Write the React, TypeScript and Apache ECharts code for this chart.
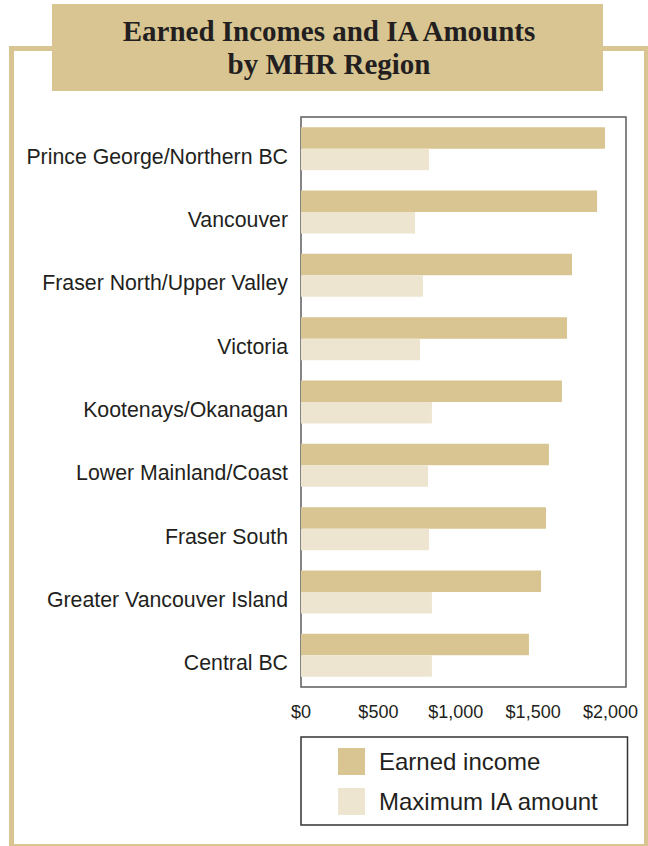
import React, { useEffect, useRef } from 'react';
import * as echarts from 'echarts';

const regions = [
  'Prince George/Northern BC',
  'Vancouver',
  'Fraser North/Upper Valley',
  'Victoria',
  'Kootenays/Okanagan',
  'Lower Mainland/Coast',
  'Fraser South',
  'Greater Vancouver Island',
  'Central BC',
];
const earnedIncome = [1964, 1913, 1751, 1719, 1686, 1602, 1583, 1551, 1473];
const maxIAAmount = [827, 737, 788, 769, 846, 821, 827, 846, 846];
const xTickValues = [0, 500, 1000, 1500, 2000];
const seriesNames = ['Earned income', 'Maximum IA amount'];
const titleLines = ['Earned Incomes and IA Amounts', 'by MHR Region'];

const TAN = '#d8c592';
const LIGHT = '#ede5cf';
const INK = '#231f20';
const SANS = '"Liberation Sans", Arial, Helvetica, sans-serif';
const SERIF = '"Liberation Serif", "Times New Roman", serif';

export default function App() {
  const ref = useRef<HTMLDivElement>(null);
  useEffect(() => {
    document.body.style.margin = '0';
    const chart = echarts.init(ref.current!, null, { renderer: 'svg' });
    chart.setOption({
      animation: false,
      backgroundColor: '#ffffff',
      grid: {
        left: 301,
        top: 117,
        width: 325,
        height: 570,
        show: true,
        borderColor: '#5c5c5c',
        borderWidth: 1.5,
        backgroundColor: 'transparent',
      },
      xAxis: {
        type: 'value',
        min: 0,
        max: 2100,
        interval: 500,
        axisLine: { show: false },
        axisTick: { show: false },
        splitLine: { show: false },
        axisLabel: {
          showMaxLabel: false,
          margin: 16,
          fontSize: 18,
          color: INK,
          fontFamily: SANS,
          formatter: (v: number) =>
            xTickValues.includes(v) ? '$' + v.toLocaleString('en-US') : '',
        },
      },
      yAxis: {
        type: 'category',
        data: regions,
        inverse: true,
        axisLine: { show: false },
        axisTick: { show: false },
        splitLine: { show: false },
        axisLabel: {
          fontSize: 21.3,
          color: INK,
          fontFamily: SANS,
          margin: 13,
          verticalAlign: 'top',
          lineHeight: 16,
        },
      },
      legend: {
        data: seriesNames,
        orient: 'vertical',
        left: 338,
        top: 748,
        padding: 0,
        itemWidth: 27,
        itemHeight: 27,
        itemGap: 13,
        icon: 'rect',
        selectedMode: false,
        textStyle: {
          fontSize: 24,
          color: INK,
          fontFamily: SANS,
          padding: [0, 0, 0, 9],
        },
      },
      series: [
        {
          name: seriesNames[0],
          type: 'bar',
          data: earnedIncome,
          barWidth: 21.5,
          barGap: '0%',
          itemStyle: { color: TAN },
          silent: true,
        },
        {
          name: seriesNames[1],
          type: 'bar',
          data: maxIAAmount,
          barWidth: 21.5,
          barGap: '0%',
          itemStyle: { color: LIGHT },
          silent: true,
        },
      ],
      graphic: [
        {
          type: 'rect',
          z: 0,
          silent: true,
          shape: { x: 11.5, y: 48.5, width: 635, height: 798 },
          style: { fill: 'none', stroke: TAN, lineWidth: 5 },
        },
        {
          type: 'rect',
          z: 1,
          silent: true,
          shape: { x: 52, y: 4, width: 551, height: 87 },
          style: { fill: TAN },
        },
        ...titleLines.map((t, i) => ({
          type: 'text',
          z: 2,
          silent: true,
          x: 329,
          y: i === 0 ? 31 : 64,
          style: {
            text: t,
            fill: INK,
            fontSize: 29,
            fontWeight: 'bold',
            fontFamily: SERIF,
            font: `bold 29px ${SERIF}`,
            align: 'center',
            verticalAlign: 'middle',
            textAlign: 'center',
            textVerticalAlign: 'middle',
          },
        })),
        {
          type: 'rect',
          z: 1,
          silent: true,
          shape: { x: 301, y: 737, width: 326.5, height: 88 },
          style: { fill: 'none', stroke: '#333333', lineWidth: 1.5 },
        },
      ],
    });
    return () => chart.dispose();
  }, []);
  return <div ref={ref} style={{ width: 648, height: 846 }} />;
}
